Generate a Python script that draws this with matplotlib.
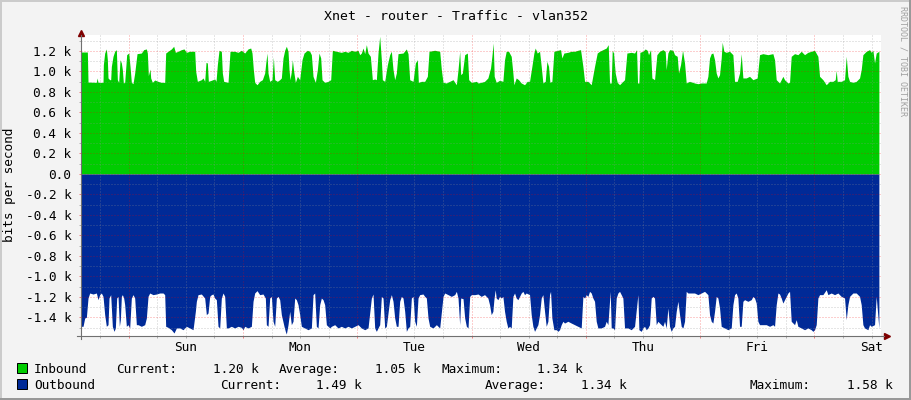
import matplotlib

matplotlib.use('Agg')

from matplotlib import pyplot as plt
from matplotlib import transforms
from matplotlib.lines import Line2D
from matplotlib.patches import Rectangle
from matplotlib.ticker import FuncFormatter
import numpy as np

##### Data (hours since graph start, k bits per second) #####

inbound_pts = [
	(0.0, 1.19), (1.44, 1.19), (1.58, 0.897), (3.33, 0.894), (3.47, 0.937), (3.68, 0.894), (4.73, 0.894),
	(4.80, 1.067), (5.08, 1.18), (5.43, 1.22), (5.64, 1.115), (5.78, 0.937), (6.13, 0.92), (6.34, 0.92),
	(6.48, 1.05), (6.83, 1.148), (7.18, 1.197), (7.53, 1.213), (7.74, 0.92), (8.02, 0.894), (8.30, 1.115),
	(8.58, 1.083), (8.79, 1.018), (9.00, 0.888), (9.28, 0.894), (9.70, 1.164), (10.12, 1.18), (10.40, 1.05),
	(10.68, 0.894), (11.03, 0.881), (11.38, 0.985), (11.87, 1.174), (12.78, 1.18), (13.27, 1.213), (13.83, 1.22),
	(14.04, 1.18), (14.25, 0.959), (14.60, 1.024), (14.74, 0.937), (15.09, 0.894), (15.58, 0.917), (16.28, 0.904),
	(16.98, 0.894), (17.68, 0.894), (17.89, 1.18), (18.38, 1.197), (19.08, 1.22), (19.57, 1.246), (19.92, 1.187),
	(20.48, 1.197), (21.18, 1.213), (21.74, 1.22), (22.23, 1.187), (22.93, 1.197), (23.98, 1.197), (24.19, 1.002),
	(24.54, 0.904), (25.38, 0.92), (25.73, 0.937), (26.08, 0.904), (26.36, 1.089), (26.64, 1.083), (26.85, 0.904),
	(27.48, 0.914), (28.18, 0.927), (28.46, 0.904), (28.74, 1.067), (29.09, 1.207), (29.58, 1.197), (29.79, 0.985),
	(30.07, 0.904), (30.98, 0.894), (31.40, 1.197), (32.38, 1.197), (33.08, 1.187), (33.78, 1.207), (34.48, 1.18),
	(35.18, 1.22), (35.74, 1.229), (36.02, 1.18), (36.30, 1.018), (36.58, 0.894), (37.07, 0.871), (37.63, 0.904),
	(38.19, 0.92), (38.68, 0.985), (38.89, 1.076), (39.17, 1.18), (39.38, 0.985), (39.73, 0.904), (40.22, 0.92),
	(40.50, 1.141), (40.78, 0.92), (41.34, 0.904), (41.83, 0.92), (42.18, 0.937), (42.53, 1.132), (42.88, 1.207),
	(43.23, 1.246), (43.58, 1.197), (43.79, 1.018), (44.00, 0.92), (44.28, 1.002), (44.49, 1.115), (44.77, 1.002),
	(45.12, 0.894), (45.54, 0.953), (46.03, 0.92), (46.52, 1.115), (46.94, 1.18), (47.64, 1.207), (48.13, 1.197),
	(48.48, 1.164), (48.83, 0.953), (49.32, 0.894), (49.74, 1.018), (50.09, 1.18), (50.44, 1.132), (50.72, 0.92),
	(51.28, 0.894), (51.98, 0.904), (52.54, 0.92), (52.89, 1.207), (53.73, 1.197), (54.78, 1.187), (55.48, 1.197),
	(56.18, 1.187), (56.88, 1.207), (57.58, 1.197), (58.28, 1.207), (58.63, 1.164), (58.98, 1.18), (59.33, 1.229),
	(59.68, 1.174), (60.03, 1.262), (60.38, 1.18), (60.87, 1.148), (61.29, 0.92), (61.78, 0.927), (62.13, 0.92),
	(62.48, 1.18), (62.83, 1.343), (63.18, 1.115), (63.39, 0.92), (63.88, 0.904), (64.44, 1.067), (64.93, 1.164),
	(65.28, 1.197), (65.63, 1.018), (65.98, 0.92), (66.33, 0.985), (66.68, 1.174), (67.73, 1.18), (68.43, 1.22),
	(68.78, 1.174), (69.13, 0.92), (69.83, 0.904), (70.32, 1.083), (70.74, 1.115), (70.95, 0.894), (71.58, 0.904),
	(72.28, 0.904), (72.84, 0.953), (73.19, 1.197), (74.38, 1.207), (75.43, 1.197), (75.78, 1.018), (76.13, 0.894),
	(76.83, 0.888), (77.53, 0.904), (78.23, 0.92), (78.93, 0.871), (79.28, 1.018), (79.63, 1.197), (79.84, 0.969),
	(80.19, 0.985), (80.68, 1.164), (81.24, 1.18), (81.52, 0.92), (82.08, 0.894), (83.13, 0.904), (83.48, 0.888),
	(84.15, 0.894), (84.85, 0.904), (85.55, 0.937), (86.11, 1.034), (86.39, 1.148), (86.67, 1.278), (86.88, 0.953),
	(87.30, 0.894), (88.00, 0.914), (88.70, 0.904), (89.05, 1.115), (89.40, 1.197), (89.89, 1.197), (90.45, 1.148),
	(90.80, 0.985), (91.01, 0.871), (91.50, 0.937), (91.99, 0.92), (92.55, 0.888), (93.25, 0.871), (93.81, 0.904),
	(94.30, 0.904), (94.79, 1.05), (95.21, 1.18), (95.49, 1.229), (95.91, 1.18), (96.40, 1.197), (96.75, 1.05),
	(97.10, 0.888), (97.59, 0.904), (97.94, 1.099), (98.29, 1.05), (98.57, 0.894), (98.99, 0.904), (99.41, 1.197),
	(100.25, 1.207), (100.81, 1.213), (101.09, 1.132), (101.51, 1.18), (102.35, 1.187), (103.05, 1.197),
	(103.75, 1.197), (104.45, 1.207), (105.01, 1.213), (105.50, 1.05), (105.85, 0.904), (106.55, 0.904),
	(107.25, 0.871), (107.95, 1.05), (108.51, 1.18), (109.00, 1.197), (109.70, 1.213), (110.40, 1.229),
	(110.82, 1.262), (111.10, 0.888), (111.45, 0.888), (111.66, 1.207), (111.94, 1.18), (112.29, 0.985),
	(112.71, 0.894), (113.20, 0.871), (113.69, 0.894), (114.25, 0.92), (114.74, 1.18), (115.65, 1.187),
	(116.35, 1.18), (116.77, 1.213), (116.98, 0.888), (117.26, 0.888), (117.47, 1.187), (118.10, 1.197),
	(118.59, 1.22), (119.01, 1.207), (119.29, 1.164), (119.71, 1.213), (119.99, 0.937), (120.55, 0.92),
	(121.04, 1.164), (121.60, 1.197), (122.30, 1.213), (122.79, 1.197), (123.00, 1.018), (123.35, 1.18),
	(123.70, 1.213), (124.40, 1.207), (124.75, 1.164), (125.31, 1.148), (125.59, 0.985), (126.01, 1.067),
	(126.43, 1.207), (126.85, 1.083), (127.20, 0.888), (127.90, 0.904), (128.95, 0.888), (129.65, 0.881),
	(130.35, 0.888), (131.40, 0.888), (131.75, 0.953), (132.10, 1.132), (132.45, 1.174), (132.80, 1.18),
	(133.15, 1.115), (133.50, 0.985), (133.85, 0.937), (134.20, 0.969), (134.55, 1.132), (134.76, 1.285),
	(135.11, 1.197), (135.60, 1.187), (136.30, 1.197), (137.00, 1.164), (137.35, 0.904), (137.91, 0.904),
	(138.40, 0.985), (138.75, 1.174), (139.10, 0.937), (139.80, 0.937), (140.50, 0.953), (141.20, 0.92),
	(142.11, 0.937), (142.60, 1.164), (143.30, 1.174), (144.35, 1.164), (145.40, 1.174), (145.75, 1.115),
	(146.10, 0.92), (146.80, 0.888), (147.50, 0.953), (147.85, 0.92), (148.55, 0.888), (148.90, 0.894),
	(149.25, 1.148), (149.95, 1.174), (150.65, 1.164), (151.35, 1.197), (152.05, 1.164), (152.75, 1.187),
	(153.45, 1.197), (154.15, 1.207), (154.85, 1.148), (155.20, 0.953), (155.90, 0.92), (156.60, 0.871),
	(157.30, 0.904), (158.00, 0.904), (158.49, 0.92), (158.70, 1.011), (158.91, 0.904), (159.75, 0.904),
	(160.45, 0.92), (160.80, 1.148), (161.15, 0.953), (161.50, 0.904), (162.20, 0.894), (162.90, 0.904),
	(163.60, 0.937), (163.95, 1.018), (164.30, 1.164), (165.00, 1.197), (165.70, 1.213), (166.05, 1.187),
	(166.40, 1.207), (166.75, 1.083), (167.10, 1.18), (167.66, 1.197),
]

outbound_pts = [
	(0.0, 1.486), (0.53, 1.486), (0.88, 1.405), (1.23, 1.398), (1.58, 1.21), (1.93, 1.161), (2.63, 1.171),
	(3.33, 1.161), (3.68, 1.226), (4.03, 1.177), (4.38, 1.161), (4.73, 1.194), (5.08, 1.372), (5.43, 1.486),
	(5.78, 1.47), (5.99, 1.21), (6.34, 1.177), (6.69, 1.486), (7.04, 1.535), (7.32, 1.502), (7.60, 1.21),
	(7.88, 1.194), (8.16, 1.486), (8.37, 1.421), (8.58, 1.194), (8.79, 1.177), (9.07, 1.21), (9.28, 1.275),
	(9.63, 1.486), (9.98, 1.47), (10.33, 1.502), (10.68, 1.21), (11.03, 1.177), (11.38, 1.21), (11.73, 1.47),
	(12.08, 1.47), (12.78, 1.486), (13.48, 1.47), (13.83, 1.405), (14.18, 1.194), (14.53, 1.161), (15.23, 1.177),
	(15.93, 1.171), (16.63, 1.161), (17.33, 1.161), (17.68, 1.177), (17.89, 1.486), (18.38, 1.496), (19.08, 1.519),
	(19.64, 1.551), (20.13, 1.502), (20.83, 1.502), (21.53, 1.519), (22.23, 1.486), (22.93, 1.502), (23.63, 1.519),
	(24.12, 1.34), (24.33, 1.242), (24.68, 1.177), (25.38, 1.171), (26.08, 1.21), (26.43, 1.372), (26.78, 1.356),
	(27.13, 1.194), (27.48, 1.177), (27.83, 1.171), (28.18, 1.21), (28.53, 1.226), (28.88, 1.486), (29.23, 1.502),
	(29.58, 1.21), (29.93, 1.161), (30.28, 1.194), (30.63, 1.502), (30.98, 1.502), (31.68, 1.486), (32.38, 1.502),
	(33.08, 1.486), (33.78, 1.496), (34.13, 1.519), (34.48, 1.486), (35.18, 1.502), (35.88, 1.486), (36.23, 1.242),
	(36.58, 1.161), (37.07, 1.138), (37.63, 1.177), (38.33, 1.171), (38.82, 1.21), (39.03, 1.47), (39.38, 1.486),
	(39.73, 1.21), (40.08, 1.194), (40.43, 1.437), (40.78, 1.486), (41.13, 1.21), (41.48, 1.194), (41.83, 1.226),
	(42.18, 1.372), (42.74, 1.486), (43.02, 1.535), (43.23, 1.561), (43.58, 1.47), (43.93, 1.34), (44.28, 1.47),
	(44.63, 1.437), (44.98, 1.21), (45.33, 1.226), (45.68, 1.275), (46.03, 1.372), (46.38, 1.486), (47.08, 1.502),
	(47.78, 1.519), (48.48, 1.502), (48.83, 1.177), (49.18, 1.161), (49.53, 1.486), (49.88, 1.502), (50.23, 1.275),
	(50.58, 1.21), (50.93, 1.226), (51.28, 1.275), (51.63, 1.47), (51.98, 1.486), (52.33, 1.502), (52.68, 1.486),
	(53.38, 1.47), (54.08, 1.502), (54.78, 1.486), (55.48, 1.502), (56.18, 1.486), (56.88, 1.502), (57.58, 1.486),
	(58.28, 1.47), (58.98, 1.502), (59.68, 1.519), (60.38, 1.502), (61.08, 1.21), (61.43, 1.171), (61.78, 1.502),
	(62.13, 1.535), (62.48, 1.502), (62.83, 1.47), (63.18, 1.194), (63.53, 1.21), (63.88, 1.502), (64.23, 1.486),
	(64.93, 1.226), (65.28, 1.177), (65.63, 1.242), (65.98, 1.405), (66.33, 1.486), (66.68, 1.486), (67.03, 1.242),
	(67.38, 1.194), (67.73, 1.21), (68.08, 1.34), (68.43, 1.535), (68.78, 1.502), (69.13, 1.486), (69.48, 1.21),
	(69.83, 1.194), (70.18, 1.437), (70.53, 1.486), (70.88, 1.21), (71.23, 1.177), (71.93, 1.171), (72.28, 1.194),
	(72.63, 1.21), (72.98, 1.405), (73.33, 1.486), (74.03, 1.502), (74.73, 1.47), (75.43, 1.502), (76.13, 1.194),
	(76.48, 1.161), (77.18, 1.177), (77.88, 1.194), (78.58, 1.177), (78.93, 1.145), (79.28, 1.21), (79.63, 1.47),
	(79.84, 1.21), (80.33, 1.216), (80.68, 1.405), (81.03, 1.486), (81.38, 1.502), (81.73, 1.194), (82.08, 1.177),
	(82.78, 1.177), (83.48, 1.171),
	(84.15, 1.194), (84.85, 1.177), (85.55, 1.21), (85.90, 1.275), (86.25, 1.372), (86.60, 1.34), (86.81, 1.226),
	(87.09, 1.129), (87.30, 1.21), (87.65, 1.226), (88.00, 1.194), (88.35, 1.21), (88.70, 1.194), (89.05, 1.34),
	(89.40, 1.437), (89.75, 1.502), (90.10, 1.486), (90.45, 1.502), (90.80, 1.194), (91.15, 1.161), (91.50, 1.21),
	(91.85, 1.226), (92.20, 1.194), (92.55, 1.161), (92.90, 1.145), (93.25, 1.177), (93.60, 1.161), (94.30, 1.177),
	(94.65, 1.372), (95.00, 1.486), (95.35, 1.535), (95.70, 1.502), (96.05, 1.47), (96.40, 1.372), (96.75, 1.21),
	(97.10, 1.177), (97.45, 1.34), (97.80, 1.486), (98.15, 1.437), (98.50, 1.177), (98.71, 1.145), (98.99, 1.405),
	(99.41, 1.519), (99.90, 1.519), (100.25, 1.535), (100.60, 1.519), (100.95, 1.47), (101.30, 1.437),
	(101.65, 1.454), (102.35, 1.437), (103.05, 1.454), (103.75, 1.47), (104.45, 1.486), (105.15, 1.502),
	(105.50, 1.194), (105.85, 1.21), (106.20, 1.177), (106.55, 1.194), (106.90, 1.145), (107.25, 1.161),
	(107.60, 1.21), (107.95, 1.242), (108.30, 1.437), (108.65, 1.502), (109.35, 1.502), (110.05, 1.486),
	(110.40, 1.437), (110.75, 1.47), (111.24, 1.145), (111.45, 1.502), (111.80, 1.502), (112.15, 1.519),
	(112.50, 1.21), (112.85, 1.161), (113.20, 1.145), (113.55, 1.177), (113.90, 1.21), (114.25, 1.502),
	(114.95, 1.502), (115.65, 1.519), (116.35, 1.486), (117.05, 1.177), (117.26, 1.519), (117.75, 1.535),
	(118.10, 1.502), (118.45, 1.486), (118.80, 1.519), (119.15, 1.502), (119.50, 1.47), (119.85, 1.21),
	(120.20, 1.194), (120.55, 1.21), (120.90, 1.47), (121.25, 1.437), (121.60, 1.454), (121.95, 1.47),
	(122.30, 1.486), (122.65, 1.437), (123.00, 1.502), (123.35, 1.307), (123.70, 1.486), (124.05, 1.535),
	(124.40, 1.502), (124.75, 1.486), (125.10, 1.34), (125.45, 1.242), (125.80, 1.372), (126.15, 1.486),
	(126.50, 1.502), (126.85, 1.437), (127.20, 1.145), (127.55, 1.161), (128.25, 1.161), (128.95, 1.161),
	(129.65, 1.177), (130.35, 1.161), (131.05, 1.145), (131.75, 1.177), (132.10, 1.372), (132.45, 1.437),
	(132.80, 1.454), (133.15, 1.34), (133.50, 1.194), (133.85, 1.21), (134.20, 1.307), (134.55, 1.486),
	(135.25, 1.502), (135.95, 1.519), (136.65, 1.502), (137.00, 1.275), (137.35, 1.177), (137.70, 1.161),
	(138.05, 1.21), (138.40, 1.486), (138.75, 1.486), (139.10, 1.242), (139.45, 1.226), (140.15, 1.242),
	(140.85, 1.226), (141.20, 1.194), (141.55, 1.21), (141.90, 1.259), (142.25, 1.437), (142.60, 1.47),
	(143.30, 1.47), (144.00, 1.47), (144.70, 1.486), (145.40, 1.47), (145.75, 1.486), (146.10, 1.275),
	(146.45, 1.161), (146.80, 1.171), (147.15, 1.21), (147.50, 1.259), (147.85, 1.226), (148.20, 1.194),
	(148.55, 1.161), (148.90, 1.145), (149.25, 1.437), (149.95, 1.47), (150.30, 1.421), (150.65, 1.486),
	(151.35, 1.502), (152.05, 1.519), (152.75, 1.502), (153.45, 1.519), (153.80, 1.535), (154.15, 1.519),
	(154.50, 1.47), (154.85, 1.21), (155.20, 1.177), (155.90, 1.177), (156.60, 1.129), (156.95, 1.177),
	(157.65, 1.161), (158.35, 1.177), (159.05, 1.161), (159.75, 1.194), (160.45, 1.21), (160.80, 1.421),
	(161.15, 1.275), (161.50, 1.194), (162.20, 1.161), (162.90, 1.161), (163.60, 1.194), (163.95, 1.275),
	(164.30, 1.47), (164.65, 1.502), (165.35, 1.519), (165.70, 1.47), (166.05, 1.486), (166.75, 1.47),
	(167.10, 1.194), (167.45, 1.389), (167.66, 1.502),
]

day_names = ['Sun', 'Mon', 'Tue', 'Wed', 'Thu', 'Fri', 'Sat']
first_midnight = 10.12   # hours after graph start

title = 'Xnet - router - Traffic - vlan352'
in_stats = ['1.20 k', '1.05 k', '1.34 k']
out_stats = ['1.49 k', '1.34 k', '1.58 k']

##### Plot #####

W, H = 911, 400
MONO = 'DejaVu Sans Mono'
FS = 9.2

plt.rcParams['font.family'] = MONO

fig = plt.figure(figsize=(W / 100.0, H / 100.0), dpi=100, facecolor='#F3F3F3')

def fx(x):
	return x / float(W)

def fy(y):
	return 1 - y / float(H)

ax = fig.add_axes([fx(80.5), fy(336), 800.0 / W, 301.0 / H])
ax.set_facecolor('white')
ax.set_xlim(0, 168)
ax.set_ylim(-1.5805, 1.356)

in_h, in_v = zip(*inbound_pts)
out_h, out_v = zip(*outbound_pts)

ax.fill_between(in_h, 0, in_v, color='#00CC00', lw=0, zorder=1)
ax.fill_between(out_h, 0, -np.array(out_v), color='#002A97', lw=0, zorder=1)

# grid : minor every 6h / 0.1k, major every day / 0.2k
midnights = [first_midnight + 24 * i for i in range(7)]
six_hours = np.arange(first_midnight - 6, 168, 6)
ax.set_xticks(midnights)
ax.set_xticks(six_hours, minor=True)
ax.set_yticks(np.arange(-1.4, 1.21, 0.2))
ax.set_yticks(np.arange(-1.5, 1.31, 0.1), minor=True)

ax.set_axisbelow(False)
ax.grid(which='minor', color='#8F8F8F', alpha=0.45, lw=0.72, linestyle=(0, (1, 2)))
ax.grid(which='major', color='#F00000', alpha=0.38, lw=0.72, linestyle=(0, (1, 2)))

ax.yaxis.set_major_formatter(FuncFormatter(lambda v, p: '0.0' if abs(v) < 1e-9 else '%.1f k' % v))
ax.tick_params(axis='x', which='both', labelbottom=False, length=1.6, width=0.72)
ax.tick_params(axis='x', which='major', color='#F08080')
ax.tick_params(axis='x', which='minor', color='#B0B0B0')
ax.tick_params(axis='y', which='both', length=1.6, width=0.72, pad=5, labelsize=FS)
ax.tick_params(axis='y', which='major', color='#F08080')
ax.tick_params(axis='y', which='minor', color='#B0B0B0')

for s in ax.spines.values():
	s.set_visible(False)

# axes with arrows
ax.add_line(Line2D([-0.0048, 1.0045], [0, 0], transform=ax.transAxes, color='#707070', lw=0.8, clip_on=False, zorder=3))
ax.add_line(Line2D([0, 0], [-0.01, 1.0], transform=ax.transAxes, color='#707070', lw=0.8, clip_on=False, zorder=3))
up = transforms.offset_copy(ax.transAxes, fig=fig, x=0, y=2.5, units='dots')
right = transforms.offset_copy(ax.transAxes, fig=fig, x=6, y=0, units='dots')
ax.plot([0], [1], marker='^', ms=4, color='#7F0000', mec='#7F0000', transform=up, clip_on=False)
ax.plot([1], [0], marker='>', ms=4, color='#7F0000', mec='#7F0000', transform=right, clip_on=False)

# day labels at noon
lbl_tr = transforms.blended_transform_factory(ax.transData, fig.transFigure)
for i, d in enumerate(day_names):
	ax.text(first_midnight + 12 + 24 * i, fy(351), d, transform=lbl_tr, ha='center', va='baseline', fontsize=FS, clip_on=False)

# title, axis label, watermark
fig.text(0.5, fy(19.5), title, ha='center', va='baseline', fontsize=9.5)
fig.text(fx(10), fy(185), 'bits per second', rotation=90, ha='center', va='center', fontsize=FS)
fig.text(fx(902.5), fy(6), 'RRDTOOL / TOBI OETIKER', rotation=270, ha='center', va='top', fontsize=6, color='#A0A0A0')

# legend
rows = [
	('#00CC00', 'Inbound', 372.7, [116, 213, 279, 375, 441, 537], in_stats),
	('#002A97', 'Outbound', 388.7, [220, 316, 485, 581, 750, 847], out_stats),
]
for color, name, base, xs, stats in rows:
	fig.patches.append(Rectangle((fx(17.3), fy(base)), 10.0 / W, 10.0 / H, facecolor=color, edgecolor='black', lw=0.72, transform=fig.transFigure, figure=fig))
	fig.text(fx(34), fy(base), name, ha='left', va='baseline', fontsize=FS)
	words = ['Current:', stats[0], 'Average:', stats[1], 'Maximum:', stats[2]]
	for x, w in zip(xs, words):
		fig.text(fx(x), fy(base), w, ha='left', va='baseline', fontsize=FS)

# 3D-ish border
fig.add_artist(Line2D([0, 1], [fy(0.5), fy(0.5)], transform=fig.transFigure, color='#CBCBCB', lw=1.44))
fig.add_artist(Line2D([fx(0.5), fx(0.5)], [0, 1], transform=fig.transFigure, color='#CBCBCB', lw=1.44))
fig.add_artist(Line2D([0, 1], [fy(399), fy(399)], transform=fig.transFigure, color='#999999', lw=1.44))
fig.add_artist(Line2D([fx(910), fx(910)], [0, 1], transform=fig.transFigure, color='#999999', lw=1.44))

plt.savefig('out.png', dpi=100, facecolor=fig.get_facecolor())
